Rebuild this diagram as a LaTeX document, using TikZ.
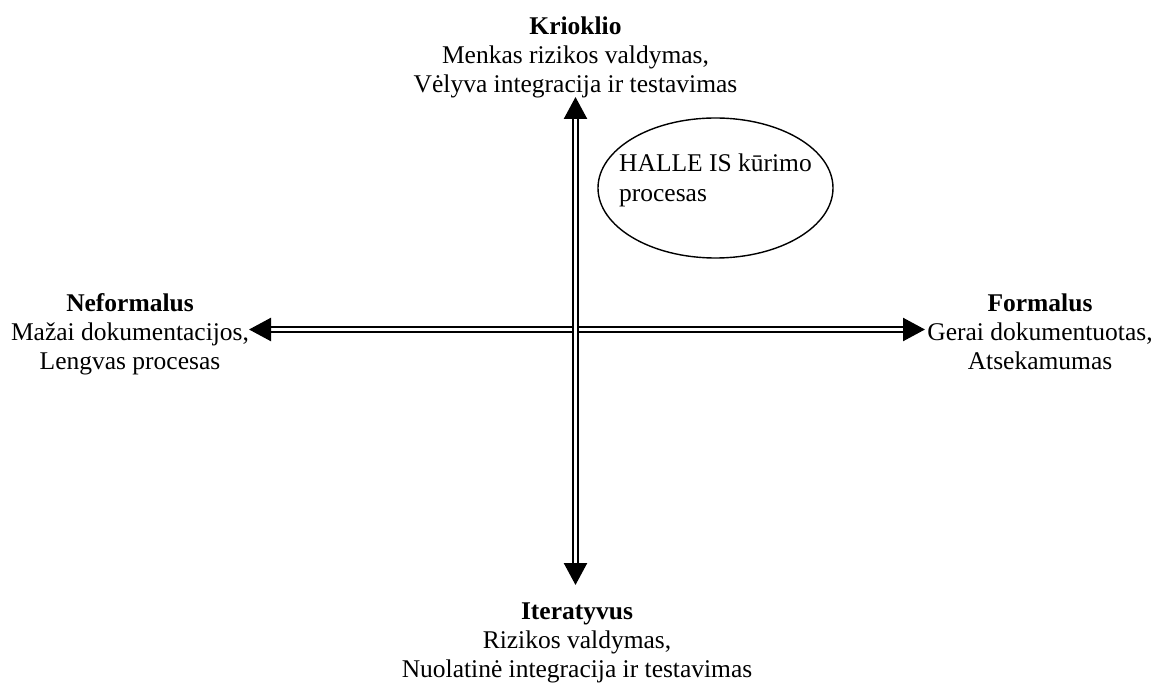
\documentclass[tikz,border=0pt]{standalone}
\usepackage{fontspec}
\setmainfont{Liberation Serif}
\usetikzlibrary{arrows.meta,shapes.geometric}

\begin{document}
\begin{tikzpicture}[x=1pt,y=-1pt,
  axis/.style={double=white, draw=black, line width=2.4pt, double distance=3pt,
    {Triangle[length=22pt,width=23pt]}-{Triangle[length=22pt,width=23pt]}},
  pole/.style={inner sep=0pt, align=center, anchor=base,
    font=\fontsize{25.5}{29}\selectfont},
  bubble/.style={draw, line width=1.4pt, ellipse, inner sep=0pt,
    minimum width=235pt, minimum height=140pt},
  bubbletext/.style={inner sep=0pt, align=left,
    font=\fontsize{25.5}{30}\selectfont}]

\useasboundingbox (0,0) rectangle (1160,684);

% ends of the two axes
\coordinate (top)    at (575.5,97);
\coordinate (bottom) at (575.5,585);
\coordinate (left)   at (249,329.5);
\coordinate (right)  at (925,329.5);

\draw[axis] (left) -- (right);
\draw[axis] (bottom) -- (top);

% labels of the four poles (anchored at the baseline of the last line)
\node[pole] (krioklio) at (575.5,93)
  {\textbf{Krioklio}\\Menkas rizikos valdymas,\\Vėlyva integracija ir testavimas};
\node[pole] (iteratyvus) at (577,677)
  {\textbf{Iteratyvus}\\Rizikos valdymas,\\Nuolatinė integracija ir testavimas};
\node[pole] (neformalus) at (130,370)
  {\textbf{Neformalus}\\Mažai dokumentacijos,\\Lengvas procesas};
\node[pole] (formalus) at (1040,370)
  {\textbf{Formalus}\\Gerai dokumentuotas,\\Atsekamumas};

% process marker
\node[bubble] (proc) at (715.5,188) {};
\node[bubbletext] (proctext) at (715.5,180)
  {HALLE IS kūrimo\\procesas};

\end{tikzpicture}
\end{document}
